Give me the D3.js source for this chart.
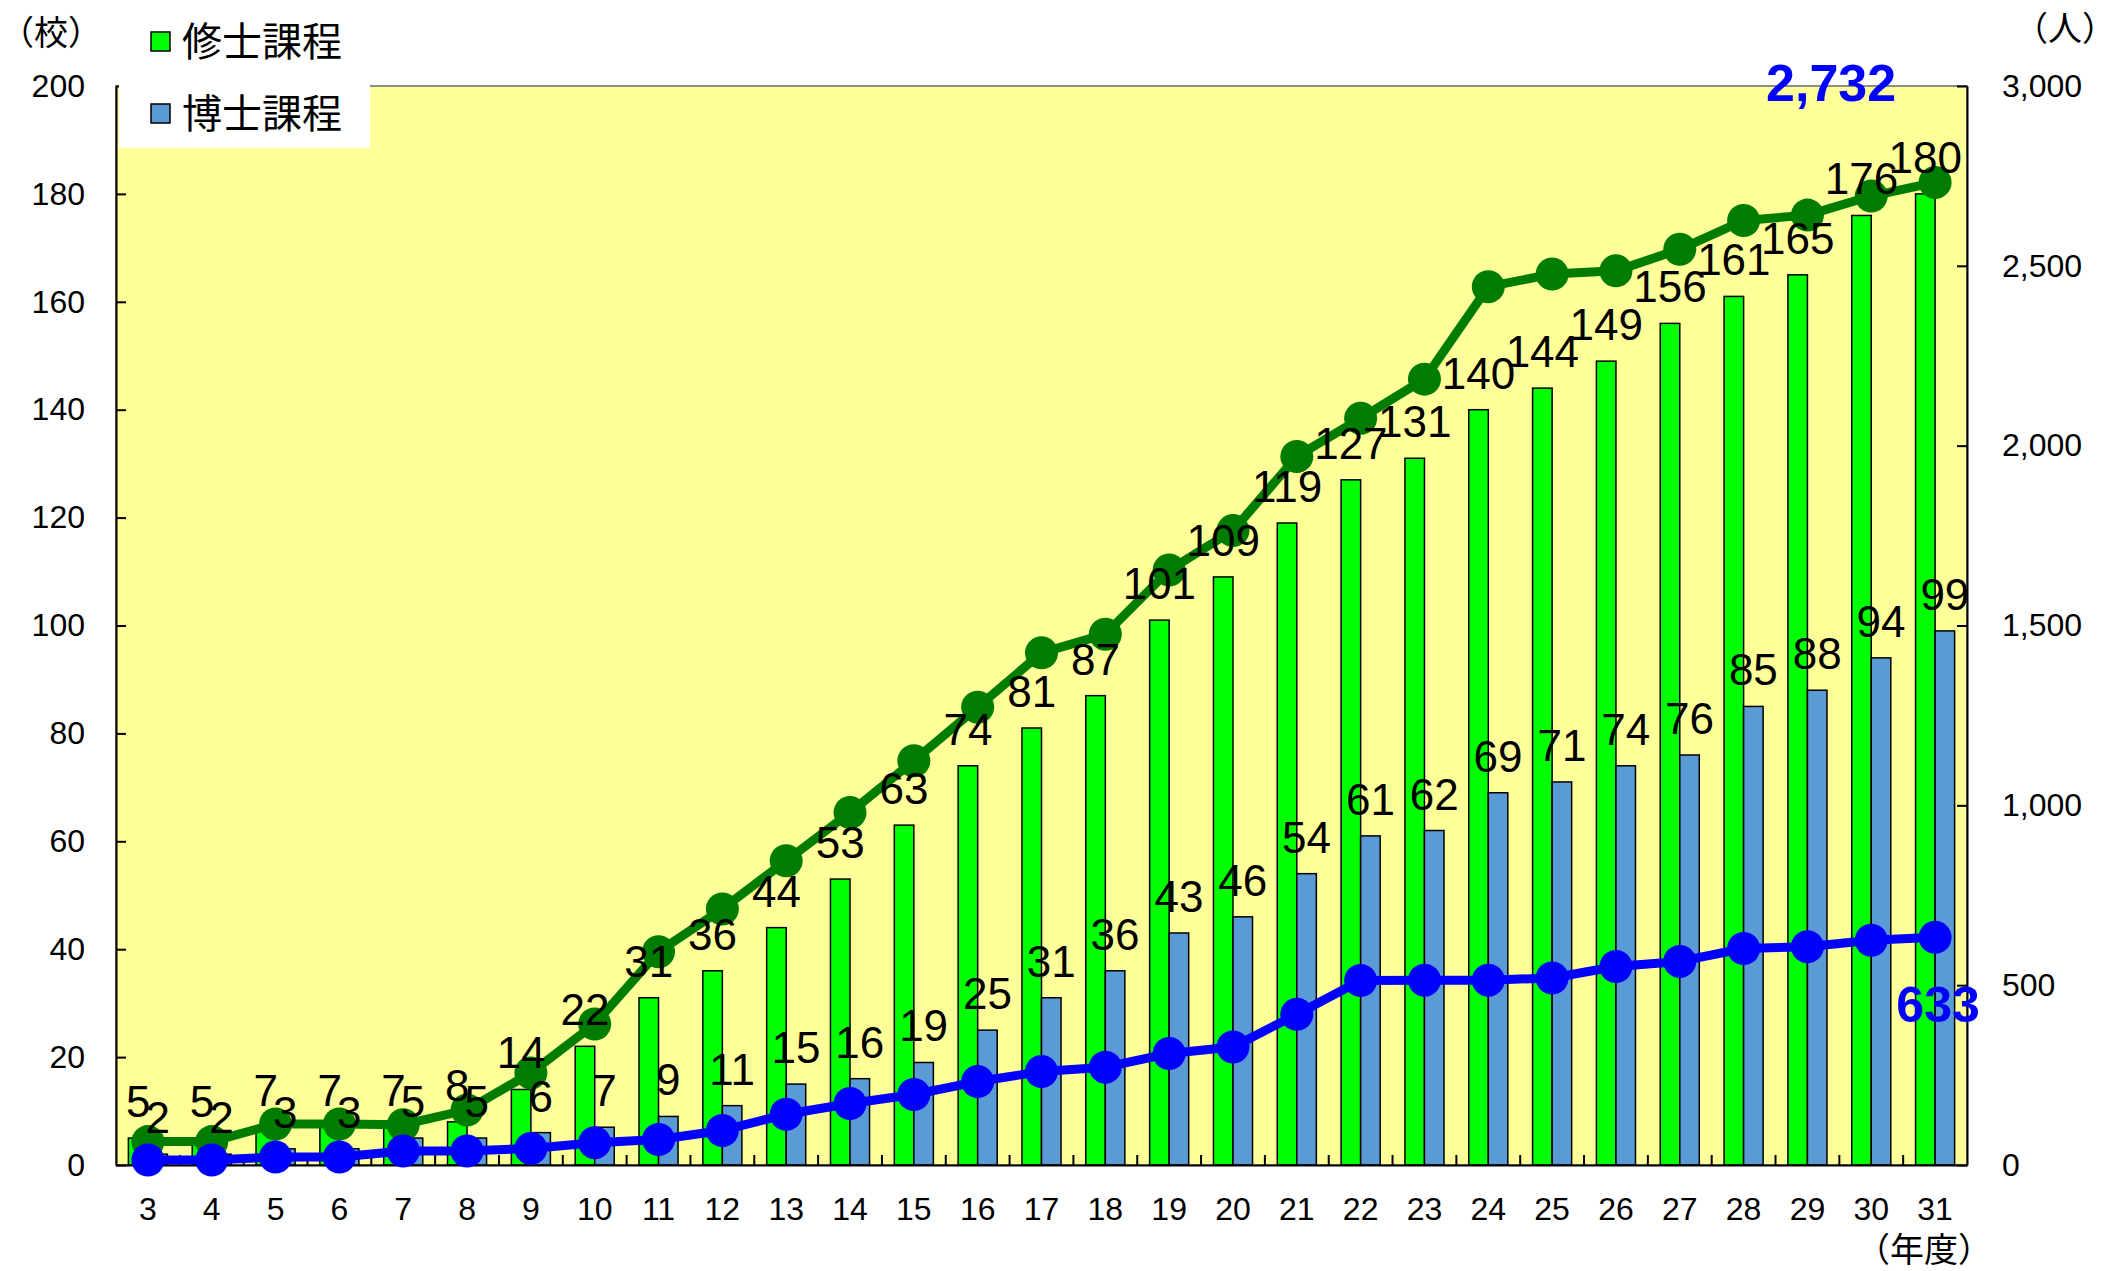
<!DOCTYPE html>
<html lang="ja">
<head>
<meta charset="utf-8">
<title>修士課程・博士課程</title>
<script src="https://d3js.org/d3.v7.min.js"></script>
<style>
  body { margin: 0; background: #fff; }
  text { font-family: "Liberation Sans", Arial, "Noto Sans CJK JP", sans-serif; fill: #000; }
  .jp { font-family: "Noto Sans CJK JP", sans-serif; }
  .axis path, .axis line { stroke: #000; stroke-width: 2; }
  .axis text { font-size: 32px; }
</style>
</head>
<body>
<script>
// 年度 (平成)
const years = ["3","4","5","6","7","8","9","10","11","12","13","14","15","16","17","18","19","20","21","22","23","24","25","26","27","28","29","30","31"];
// 学校数 (左軸)
const masterSchools = [5,5,7,7,7,8,14,22,31,36,44,53,63,74,81,87,101,109,119,127,131,140,144,149,156,161,165,176,180];
const doctorSchools = [2,2,3,3,5,5,6,7,9,11,15,16,19,25,31,36,43,46,54,61,62,69,71,74,76,85,88,94,99];
// 学生数 (右軸)
const masterStudents = [65,65,114,114,112,153,256,392,593,712,846,980,1124,1273,1424,1476,1654,1764,1970,2076,2185,2442,2477,2486,2546,2626,2641,2694,2732];
const doctorStudents = [14,14,22,22,39,39,46,62,71,96,141,171,196,232,260,272,310,328,419,513,514,514,520,552,566,602,607,625,633];
const leftTicks = [0,20,40,60,80,100,120,140,160,180,200];
const rightTicks = [0,500,1000,1500,2000,2500,3000];

const w = 2122, h = 1271;
const m = { left: 116, right: 1967, top: 86, bottom: 1165 };

const svg = d3.select("body").append("svg")
  .attr("width", w).attr("height", h);

const x = d3.scaleBand().domain(years).range([m.left, m.right]);
const yL = d3.scaleLinear().domain([0, 200]).range([m.bottom, m.top]);
const yR = d3.scaleLinear().domain([0, 3000]).range([m.bottom, m.top]);
const barW = x.bandwidth() * 0.306;
const cx = d => x(d) + x.bandwidth() / 2;

// plot area
svg.append("rect")
  .attr("x", m.left).attr("y", m.top)
  .attr("width", m.right - m.left).attr("height", m.bottom - m.top)
  .attr("fill", "#FFFF99").attr("stroke", "#8c8c8c").attr("stroke-width", 2);

// bars
svg.append("g").selectAll("rect")
  .data(years).join("rect")
  .attr("x", d => cx(d) - barW)
  .attr("y", (d, i) => yL(masterSchools[i]))
  .attr("width", barW)
  .attr("height", (d, i) => yL(0) - yL(masterSchools[i]))
  .attr("fill", "#00FF00").attr("stroke", "#000").attr("stroke-width", 1.5);

svg.append("g").selectAll("rect")
  .data(years).join("rect")
  .attr("x", d => cx(d))
  .attr("y", (d, i) => yL(doctorSchools[i]))
  .attr("width", barW)
  .attr("height", (d, i) => yL(0) - yL(doctorSchools[i]))
  .attr("fill", "#5B9BD5").attr("stroke", "#000").attr("stroke-width", 1.5);

// axes
svg.append("g").attr("class", "axis")
  .attr("transform", "translate(" + m.left + ",0)")
  .call(d3.axisLeft(yL).tickValues(leftTicks).tickSize(-10).tickSizeOuter(0).tickPadding(31));

svg.append("g").attr("class", "axis")
  .attr("transform", "translate(" + m.right + ",0)")
  .call(d3.axisRight(yR).tickValues(rightTicks).tickSize(-10).tickSizeOuter(0)
    .tickPadding(35).tickFormat(d3.format(",")));

const xAxis = svg.append("g").attr("class", "axis")
  .attr("transform", "translate(0," + m.bottom + ")")
  .call(d3.axisBottom(x).tickSize(0).tickSizeOuter(0).tickPadding(32));

// category boundary ticks
xAxis.selectAll("line.bound")
  .data(years.slice(1)).join("line")
  .attr("class", "bound")
  .attr("x1", d => x(d)).attr("x2", d => x(d))
  .attr("y1", 0).attr("y2", -10);

// lines
const lineG = d3.line().x((d, i) => cx(years[i])).y(d => yR(d));

svg.append("path").datum(masterStudents)
  .attr("d", lineG).attr("fill", "none")
  .attr("stroke", "#007D00").attr("stroke-width", 9).attr("stroke-linejoin", "round");
svg.append("g").selectAll("circle")
  .data(masterStudents).join("circle")
  .attr("cx", (d, i) => cx(years[i])).attr("cy", d => yR(d))
  .attr("r", 16.5).attr("fill", "#007D00");

svg.append("path").datum(doctorStudents)
  .attr("d", lineG).attr("fill", "none")
  .attr("stroke", "#0000FF").attr("stroke-width", 9).attr("stroke-linejoin", "round");
svg.append("g").selectAll("circle")
  .data(doctorStudents).join("circle")
  .attr("cx", (d, i) => cx(years[i])).attr("cy", d => yR(d))
  .attr("r", 16.5).attr("fill", "#0000FF");

// bar labels
svg.append("g").selectAll("text")
  .data(years).join("text")
  .attr("x", d => cx(d) - barW / 2)
  .attr("y", (d, i) => yL(masterSchools[i]) - 21)
  .attr("text-anchor", "middle").style("font-size", "44px")
  .text((d, i) => masterSchools[i]);

svg.append("g").selectAll("text")
  .data(years).join("text")
  .attr("x", d => cx(d) + barW / 2)
  .attr("y", (d, i) => yL(doctorSchools[i]) - 21)
  .attr("text-anchor", "middle").style("font-size", "44px")
  .text((d, i) => doctorSchools[i]);

// totals
const last = years.length - 1;
svg.append("text")
  .attr("x", cx(years[last]) - 104).attr("y", yR(masterStudents[last]) - 81)
  .attr("text-anchor", "middle").style("font-size", "52px").style("font-weight", "bold")
  .style("fill", "#0000FF")
  .text(d3.format(",")(masterStudents[last]));
svg.append("text")
  .attr("x", cx(years[last]) + 3).attr("y", yR(doctorStudents[last]) + 85)
  .attr("text-anchor", "middle").style("font-size", "50px").style("font-weight", "bold")
  .style("fill", "#0000FF")
  .text(d3.format(",")(doctorStudents[last]));

// units
svg.append("text").attr("class", "jp")
  .attr("x", 0).attr("y", 45).attr("text-anchor", "start")
  .style("font-size", "34px").text("（校）");
svg.append("text").attr("class", "jp")
  .attr("x", 2065).attr("y", 41).attr("text-anchor", "middle")
  .style("font-size", "34px").text("（人）");
svg.append("text").attr("class", "jp")
  .attr("x", 1924).attr("y", 1262).attr("text-anchor", "middle")
  .style("font-size", "34px").text("（年度）");

// legend
const legend = [["修士課程", "#00FF00"], ["博士課程", "#5B9BD5"]];
svg.append("rect")
  .attr("x", 119).attr("y", 8).attr("width", 251).attr("height", 140)
  .attr("fill", "#fff");
legend.forEach((item, i) => {
  const g = svg.append("g").attr("transform", "translate(151," + (32 + 72 * i) + ")");
  g.append("rect").attr("width", 19).attr("height", 19)
    .attr("fill", item[1]).attr("stroke", "#000").attr("stroke-width", 1.5);
  g.append("text").attr("class", "jp")
    .attr("x", 31).attr("y", 24)
    .style("font-size", "40px")
    .text(item[0]);
});
</script>
</body>
</html>
